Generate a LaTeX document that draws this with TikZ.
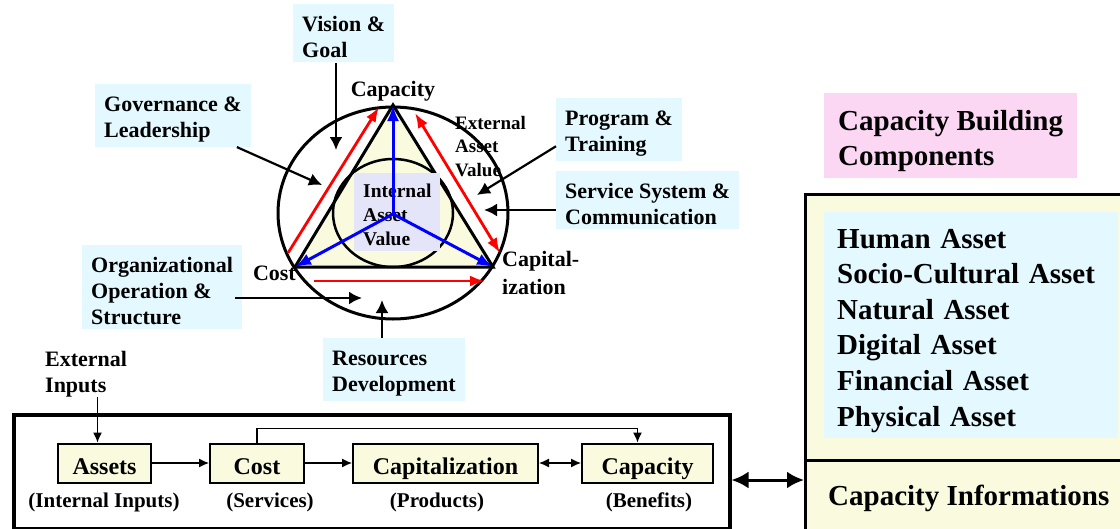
\documentclass[tikz,border=0pt]{standalone}
\usepackage{fontspec}
\setmainfont{Liberation Serif}
\usetikzlibrary{arrows.meta}
\definecolor{paleyellow}{RGB}{250,250,222}
\definecolor{palecyan}{RGB}{227,249,255}
\definecolor{palelilac}{RGB}{229,229,250}
\definecolor{palepink}{RGB}{251,215,244}
\newcommand{\tstrut}[1][22pt]{\rule{0pt}{#1}}

\begin{document}
\begin{tikzpicture}[x=1pt,y=-1pt,
  tag/.style={fill=palecyan,align=left,anchor=north west,inner xsep=9pt,inner ysep=5pt,
    font=\fontsize{22}{26}\selectfont\bfseries},
  corner/.style={font=\fontsize{22}{26}\selectfont\bfseries,inner sep=0pt},
  blk/.style={draw,line width=2pt,fill=paleyellow,minimum height=39,inner xsep=2pt,
    text height=22pt,text depth=0pt,font=\fontsize{24}{28}\selectfont\bfseries},
  sub/.style={font=\fontsize{21}{25}\selectfont\bfseries,inner sep=0pt},
  big/.style={font=\fontsize{29}{35.6}\selectfont\bfseries,align=left},
  ptr/.style={line width=2.2pt,-{Latex[length=13pt,width=13pt]}},
  redarr/.style={red,line width=2.8pt,-{Latex[length=15pt,width=11pt]}},
  bluearr/.style={blue,line width=3pt,-{Latex[length=16pt,width=12pt]}},
  thin/.style={line width=1.2pt,-{Latex[length=10pt,width=9pt]}}]
\useasboundingbox (0,0) rectangle (1120,528);

\coordinate (top) at (393,105);
\coordinate (bl) at (295,267);
\coordinate (br) at (493,267);
\coordinate (ctr) at (393,214);

\draw[line width=3pt] (393,213) ellipse (115 and 106);
\draw[line width=3pt,fill=paleyellow] (top) -- (bl) -- (br) -- cycle;
\draw[line width=2.5pt] (393,213) ellipse (60 and 54);
\node[fill=palelilac,anchor=north west,align=left,inner xsep=9pt,inner ysep=5pt,
  font=\fontsize{19.5}{24}\selectfont\bfseries] (ival) at (354,173) {\tstrut[19pt]Internal\\Asset\\Value};

\draw[bluearr] (ctr) -- (top);
\draw[bluearr] (ctr) -- (bl);
\draw[bluearr] (ctr) -- (br);

\coordinate (r1) at (288,253);
\coordinate (r2) at (379,107);
\coordinate (r3) at (415,113);
\coordinate (r4) at (500,253);
\coordinate (r5) at (314,281);
\coordinate (r6) at (485,281);
\draw[redarr] (r1) -- (r2);
\draw[redarr,{Latex[length=15pt,width=11pt]}-{Latex[length=15pt,width=11pt]}] (r3) -- (r4);
\draw[redarr] (r5) -- (r6);

\node[corner] (lcap) at (393,91) {Capacity};
\node[corner,anchor=east] (lcost) at (296,273) {Cost};
\node[corner,anchor=north west,align=left,font=\fontsize{22}{28}\selectfont\bfseries] (lcapz) at (502,251) {Capital-\\ization};
\node[anchor=north west,align=left,inner sep=0pt,font=\fontsize{19}{23.5}\selectfont\bfseries] (eval) at (455,116) {External\\Asset\\Value};

\node[tag] (vision) at (293,4) {\tstrut Vision \&\\Goal};
\node[tag] (gov) at (95,84) {\tstrut Governance \&\\Leadership};
\node[tag] (prog) at (556,98) {\tstrut Program \&\\Training};
\node[tag] (serv) at (556,171) {\tstrut Service System \&\\Communication};
\node[tag] (org) at (82,245) {\tstrut Organizational\\Operation \&\\Structure};
\node[tag] (res) at (323,338) {\tstrut Resources\\Development};

\coordinate (vtip) at (336,150);
\coordinate (gtip) at (322,185);
\coordinate (ptip) at (477,195);
\coordinate (stip) at (484,210);
\coordinate (otip) at (362,298);
\coordinate (rtip) at (382,300);
\draw[ptr] (vision.south -| vtip) -- (vtip);
\draw[ptr] ([xshift=-14pt]gov.south east) -- (gtip);
\draw[ptr] ([yshift=15pt]prog.south west) -- (ptip);
\draw[ptr] (serv.west |- stip) -- (stip);
\draw[ptr] ([xshift=-7pt]org.east |- otip) -- (otip);
\draw[ptr] (rtip |- res.north) -- (rtip);

\node[corner,anchor=north west,align=left] (extin) at (45,351) {External\\Inputs};

\node[draw,line width=3.5pt,minimum width=716,minimum height=114,anchor=north west,inner sep=0pt] (frame) at (12,413) {};
\node[blk,minimum width=93] (assets) at (104.5,463) {Assets};
\node[blk,minimum width=94] (cost) at (257,463) {Cost};
\node[blk,minimum width=185] (capz) at (445.5,463) {Capitalization};
\node[blk,minimum width=131] (capa) at (647.5,463) {Capacity};
\node[sub] (sassets) at (104,502) {(Internal Inputs)};
\node[sub] (scost) at (270,502) {(Services)};
\node[sub] (scapz) at (437,502) {(Products)};
\node[sub] (scapa) at (649,502) {(Benefits)};

\draw[thin] ([xshift=-7pt]assets.north |- extin.south) -- ([xshift=-7pt]assets.north);
\draw[thin] (assets) -- (cost);
\draw[thin] (cost) -- (capz);
\draw[thin,{Latex[length=10pt,width=9pt]}-{Latex[length=10pt,width=9pt]}] (capz) -- (capa);
\draw[thin] (cost.north) -- ++(0,-14) -| ([xshift=-10pt]capa.north);

\node[fill=palepink,big,anchor=north west,inner xsep=14pt,inner ysep=6pt] (cbc) at (824,93) {\tstrut[31pt]Capacity Building\\Components};
\node[draw,line width=3pt,fill=paleyellow,anchor=north west,minimum width=330,minimum height=350,inner sep=0pt] (panel) at (804,193) {};
\draw[line width=3pt] (panel.west |- 0,460) -- (panel.east |- 0,460);
\node[fill=palecyan,big,anchor=north west,text width=268pt,inner xsep=13pt,minimum height=226] (alist) at (824,212)
  {\tstrut[30pt]Human Asset\\Socio-Cultural Asset\\Natural Asset\\Digital Asset\\Financial Asset\\Physical Asset};
\node[big,anchor=west,inner sep=0pt] (capinfo) at (828,498) {Capacity Informations};

\coordinate (dl) at (0,480);
\draw[line width=3pt,{Latex[length=17pt,width=17pt]}-{Latex[length=17pt,width=17pt]}] (frame.east |- dl) -- (panel.west |- dl);
\end{tikzpicture}
\end{document}
